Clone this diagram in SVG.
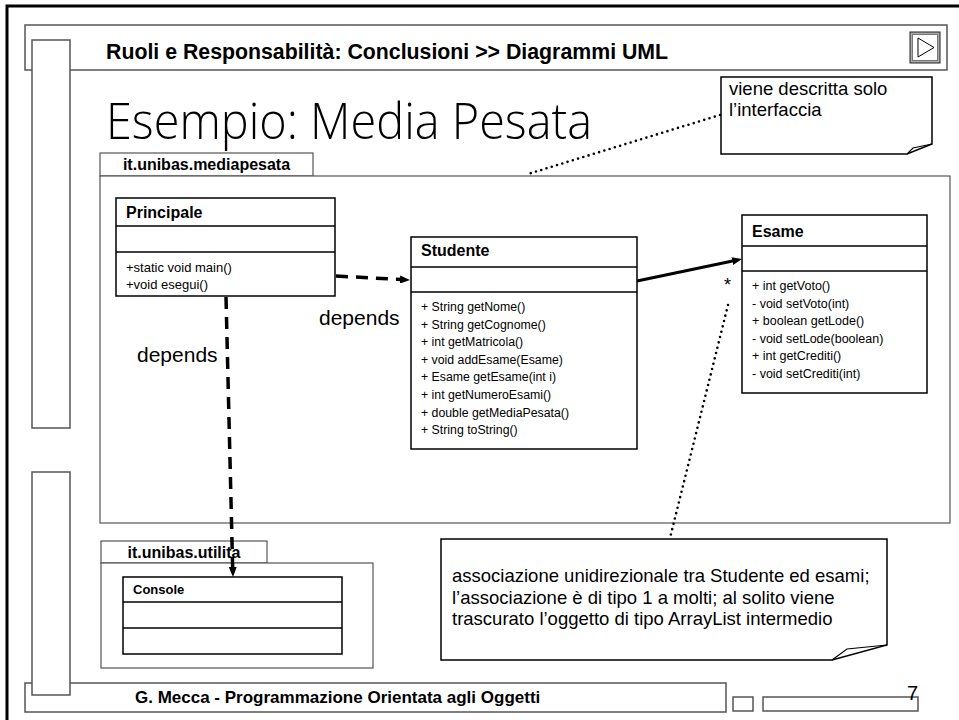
<svg xmlns="http://www.w3.org/2000/svg" width="959" height="720" viewBox="0 0 959 720">
<defs>
<style>
.frame{fill:none;stroke:#000;stroke-width:3}
.gray{fill:#fff;stroke:#555;stroke-width:1.5}
.box{fill:#fff;stroke:#000;stroke-width:1.5}
.line{stroke:#000;stroke-width:1.5}
.pkg{fill:#fff;stroke:#555;stroke-width:1.2}
.t{font-family:"Liberation Sans",Arial,sans-serif;fill:#000}
.b{font-weight:bold}
.dash{fill:none;stroke:#000;stroke-width:3.5;stroke-dasharray:12 8}
.dot{fill:none;stroke:#000;stroke-width:2.6;stroke-dasharray:0 5.5;stroke-linecap:round}
.assoc{fill:none;stroke:#000;stroke-width:3}
</style>
<marker id="arr" viewBox="0 0 10 8" refX="10" refY="4" markerWidth="10" markerHeight="8" markerUnits="userSpaceOnUse" orient="auto">
<path d="M0,0 L10,4 L0,8 Z" fill="#000"/>
</marker>
</defs>
<rect width="959" height="720" fill="#fff"/>
<rect class="frame" x="7" y="6" width="965" height="730"/>

<g id="header">
<rect class="gray" x="25" y="25" width="922" height="45"/>
<text class="t b" x="106" y="59" font-size="21.3">Ruoli e Responsabilità: Conclusioni &gt;&gt; Diagrammi UML</text>
<rect x="910" y="32" width="30" height="31" fill="#aaa" stroke="#222" stroke-width="1"/>
<rect x="912.5" y="34.5" width="25" height="26" fill="#fff" stroke="#777" stroke-width="1"/>
<path d="M918,38 L934,47.5 L918,57 Z" fill="none" stroke="#000" stroke-width="1"/>
</g>

<g id="footer">
<rect class="gray" x="25" y="683" width="701" height="29"/>
<text class="t b" x="135" y="703" font-size="17">G. Mecca - Programmazione Orientata agli Oggetti</text>
<rect class="gray" x="733" y="697" width="20" height="14"/>
<rect class="gray" x="763" y="697" width="155" height="14"/>
<text class="t" x="918" y="700" font-size="20" text-anchor="end">7</text>
</g>

<g id="sidebars">
<rect class="gray" x="32" y="40" width="38" height="388"/>
<rect class="gray" x="32" y="472" width="38" height="223"/>
</g>

<text id="title" x="106" y="139" font-family="Open Sans,DejaVu Sans,sans-serif" font-weight="300" font-size="50" textLength="486" lengthAdjust="spacingAndGlyphs">Esempio: Media Pesata</text>

<g id="pkg-mediapesata">
<rect class="pkg" x="100" y="153" width="213" height="23"/>
<rect class="pkg" x="100" y="176" width="850" height="347"/>
<text class="t b" x="206.5" y="170" font-size="16" text-anchor="middle">it.unibas.mediapesata</text>
</g>

<g id="note-interfaccia">
<path class="box" d="M721,77 H932 V144 L907,154 H721 Z"/>
<path d="M932,144 L913,148 L907,154" fill="none" stroke="#000" stroke-width="1.2"/>
<text class="t" x="729" y="95" font-size="18.5">viene descritta solo</text>
<text class="t" x="729" y="116" font-size="18.5">l’interfaccia</text>
</g>

<g id="Principale">
<rect class="box" x="116" y="198" width="219" height="98"/>
<line class="line" x1="116" y1="226" x2="335" y2="226"/>
<line class="line" x1="116" y1="252" x2="335" y2="252"/>
<text class="t b" x="126" y="218" font-size="16">Principale</text>
<text class="t" x="126" y="272" font-size="13">+static void main()</text>
<text class="t" x="126" y="289" font-size="13">+void esegui()</text>
</g>

<g id="Studente">
<rect class="box" x="411" y="237" width="226" height="212"/>
<line class="line" x1="411" y1="267" x2="637" y2="267"/>
<line class="line" x1="411" y1="292" x2="637" y2="292"/>
<text class="t b" x="421" y="256" font-size="16">Studente</text>
<g class="t" font-size="12.3">
<text x="421" y="311">+ String getNome()</text>
<text x="421" y="328.6">+ String getCognome()</text>
<text x="421" y="346.2">+ int getMatricola()</text>
<text x="421" y="363.8">+ void addEsame(Esame)</text>
<text x="421" y="381.4">+ Esame getEsame(int i)</text>
<text x="421" y="399">+ int getNumeroEsami()</text>
<text x="421" y="416.6">+ double getMediaPesata()</text>
<text x="421" y="434.2">+ String toString()</text>
</g>
</g>

<g id="Esame">
<rect class="box" x="742" y="215" width="185" height="178"/>
<line class="line" x1="742" y1="246" x2="927" y2="246"/>
<line class="line" x1="742" y1="271" x2="927" y2="271"/>
<text class="t b" x="752" y="237" font-size="16">Esame</text>
<g class="t" font-size="12.5">
<text x="752" y="290">+ int getVoto()</text>
<text x="752" y="307.5">- void setVoto(int)</text>
<text x="752" y="325">+ boolean getLode()</text>
<text x="752" y="342.5">- void setLode(boolean)</text>
<text x="752" y="360">+ int getCrediti()</text>
<text x="752" y="377.5">- void setCrediti(int)</text>
</g>
</g>

<g id="pkg-utilita">
<rect class="pkg" x="101" y="541" width="166" height="22"/>
<rect class="pkg" x="101" y="563" width="272" height="105"/>
<text class="t b" x="184" y="558" font-size="16" text-anchor="middle">it.unibas.utilita</text>
</g>

<g id="Console">
<rect class="box" x="123" y="577" width="219" height="77"/>
<line class="line" x1="123" y1="602" x2="342" y2="602"/>
<line class="line" x1="123" y1="628" x2="342" y2="628"/>
<text class="t b" x="133" y="594" font-size="13">Console</text>
</g>

<g id="note-associazione">
<path class="box" d="M441,539 H887 V645 L832,660 H441 Z"/>
<path d="M887,645 L847,649 L832,660" fill="none" stroke="#000" stroke-width="1.2"/>
<text class="t" x="452" y="582" font-size="18.5">associazione unidirezionale tra Studente ed esami;</text>
<text class="t" x="452" y="604" font-size="18.5">l’associazione è di tipo 1 a molti; al solito viene</text>
<text class="t" x="452" y="625" font-size="18.5">trascurato l’oggetto di tipo ArrayList intermedio</text>
</g>

<g id="connectors">
<path class="dash" d="M336,276 L403,279.6"/>
<path d="M336,276 L410,280" fill="none" stroke="none" marker-end="url(#arr)"/>
<path class="dash" d="M226,297 L232.7,570"/>
<path d="M226,297 L233,577" fill="none" stroke="none" marker-end="url(#arr)"/>
<path class="assoc" d="M637,281 L735,260.5"/>
<path d="M637,281 L742,259" fill="none" stroke="none" marker-end="url(#arr)"/>
<text class="t" x="724" y="291" font-size="18">*</text>
<path class="dot" d="M728,305 L670,538"/>
<path class="dot" d="M720,115 L528,174"/>
<text class="t" x="319" y="325" font-size="21">depends</text>
<text class="t" x="137" y="362" font-size="21">depends</text>
</g>
</svg>
